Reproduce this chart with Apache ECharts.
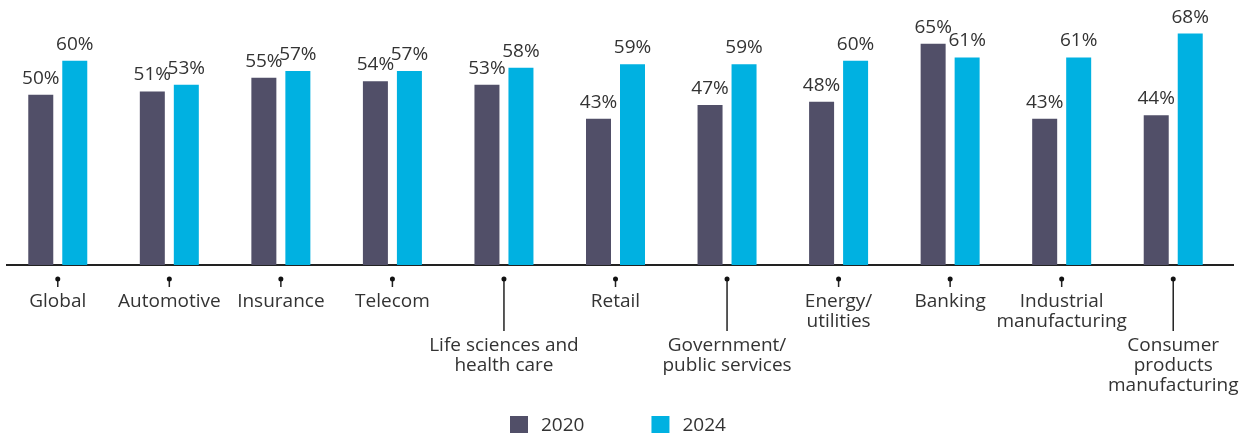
<!DOCTYPE html>
<html><head><meta charset="utf-8">
<script src="https://cdn.jsdelivr.net/npm/echarts@6/dist/echarts.min.js"></script>
<style>html,body{margin:0;padding:0;background:#fff}#c{width:1240px;height:433px}</style>
</head><body><div id="c"></div>
<script>
const categories = ['Global','Automotive','Insurance','Telecom','Life sciences and\nhealth care','Retail','Government/\npublic services','Energy/\nutilities','Banking','Industrial\nmanufacturing','Consumer\nproducts\nmanufacturing'];
const longTick = [false,false,false,false,true,false,true,false,false,false,true];
const values2020 = [50,51,55,54,53,43,47,48,65,43,44];
const values2024 = [60,53,57,57,58,59,59,60,61,61,68];
const seriesNames = ['2020','2024'];

const FONT = '"Open Sans", "Noto Sans", sans-serif';
const chart = echarts.init(document.getElementById('c'), null, {renderer:'canvas'});
const lbl = {show:true, position:'top', distance:7, formatter:'{c}%', color:'#333', fontSize:19, fontFamily:FONT};
chart.setOption({
  animation:false,
  grid:{left:2, right:11, top:20, height:245, containLabel:false},
  legend:{top:411, left:505, itemWidth:18, itemHeight:19, itemGap:67, icon:'rect',
    textStyle:{fontSize:19, color:'#333', fontFamily:FONT, padding:[0,0,0,8]}, data:seriesNames},
  xAxis:{type:'category', data:categories, axisLine:{show:false}, axisTick:{show:false}, axisLabel:{show:false}},
  yAxis:{type:'value', min:0, max:72, show:false, splitLine:{show:false}},
  series:[
    {name:seriesNames[0], type:'bar', data:values2020, barWidth:25, barGap:'36%', itemStyle:{color:'#514f68'}, label:lbl},
    {name:seriesNames[1], type:'bar', data:values2024, barWidth:25, itemStyle:{color:'#00b1e1'}, label:lbl}
  ]
});
function drawExtras(){
  const y0 = chart.convertToPixel({yAxisIndex:0}, 0);
  const els = [{type:'line', shape:{x1:6, y1:y0, x2:1234, y2:y0}, style:{stroke:'#222', lineWidth:2}}];
  categories.forEach((c,i)=>{
    const x = chart.convertToPixel({xAxisIndex:0}, c);
    const dotY = y0 + 14;
    const endY = longTick[i] ? y0 + 66 : y0 + 22;
    els.push({type:'line', shape:{x1:x, y1:dotY, x2:x, y2:endY}, style:{stroke:'#222', lineWidth:1.5}});
    els.push({type:'circle', shape:{cx:x, cy:dotY, r:2.5}, style:{fill:'#111'}});
    els.push({type:'text', x:x, y: longTick[i] ? y0 + 71 : y0 + 27,
      style:{text:c, fill:'#333', font:'19px ' + FONT, align:'center', verticalAlign:'top', lineHeight:20}});
  });
  chart.setOption({graphic:els});
}
drawExtras();
</script></body></html>
